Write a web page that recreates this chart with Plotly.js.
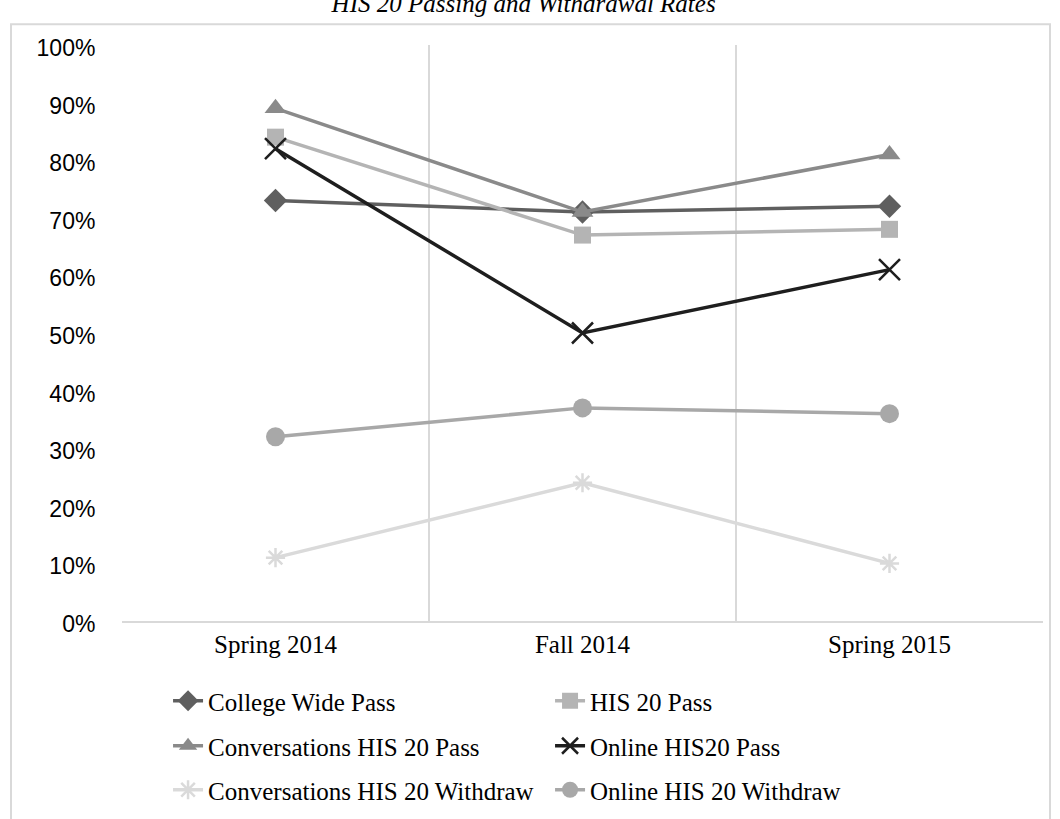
<!DOCTYPE html>
<html>
<head>
<meta charset="utf-8">
<script src="https://cdn.plot.ly/plotly-3.0.1.min.js"></script>
<style>
  html, body { margin: 0; padding: 0; background: #ffffff; }
  #chart { width: 1060px; height: 819px; }
</style>
</head>
<body>
<div id="chart"></div>
<script>
const terms = ["Spring 2014", "Fall 2014", "Spring 2015"];
const seriesNames = [
  "College Wide Pass",
  "HIS 20 Pass",
  "Conversations HIS 20 Pass",
  "Online HIS20 Pass",
  "Conversations HIS 20 Withdraw",
  "Online HIS 20 Withdraw"
];
const collegeWidePass = [0.73, 0.71, 0.72];
const his20Pass = [0.84, 0.67, 0.68];
const conversationsPass = [0.89, 0.71, 0.81];
const onlinePass = [0.82, 0.50, 0.61];
const conversationsWithdraw = [0.11, 0.24, 0.10];
const onlineWithdraw = [0.32, 0.37, 0.36];
const yTickVals = [0, 0.1, 0.2, 0.3, 0.4, 0.5, 0.6, 0.7, 0.8, 0.9, 1.0];
const yTickText = ["0%", "10%", "20%", "30%", "40%", "50%", "60%", "70%", "80%", "90%", "100%"];

const serif = "'Liberation Serif', 'Times New Roman', serif";
const sans = "'Liberation Sans', Arial, sans-serif";

function mk(name, y, color, symbol, size, legendId, extra) {
  const m = { symbol: symbol, size: size, color: color, line: { color: color, width: 0 } };
  if (extra) Object.assign(m.line, extra);
  return {
    type: "scatter", mode: "lines+markers", name: name,
    x: terms, y: y,
    line: { color: color, width: 3.5 },
    marker: m,
    legend: legendId,
    cliponaxis: false
  };
}

const data = [
  mk(seriesNames[0], collegeWidePass, "#5f5f5f", "diamond", 18, "legend"),
  mk(seriesNames[1], his20Pass, "#b4b4b4", "square", 17, "legend"),
  mk(seriesNames[2], conversationsPass, "#8a8a8a", "triangle-up", 19, "legend2"),
  mk(seriesNames[3], onlinePass, "#1e1e1e", "x-thin-open", 21, "legend2", { width: 2.5 }),
  mk(seriesNames[4], conversationsWithdraw, "#dadada", "asterisk-open", 16, "legend3", { width: 2.5 }),
  mk(seriesNames[5], onlineWithdraw, "#a8a8a8", "circle", 19, "legend3")
];

const legendBase = {
  orientation: "h", xanchor: "left", yanchor: "middle", x: 0.05,
  yref: "container",
  font: { family: serif, size: 25, color: "#000000" },
  bgcolor: "rgba(0,0,0,0)", entrywidth: 337, entrywidthmode: "pixels",
  itemclick: false, itemdoubleclick: false
};

const layout = {
  width: 1060, height: 819,
  margin: { l: 122, r: 17, t: 45, b: 198, autoexpand: false },
  paper_bgcolor: "#ffffff", plot_bgcolor: "#ffffff",
  showlegend: true,
  title: {
    text: "HIS 20 Passing and Withdrawal Rates",
    font: { family: serif, size: 25, style: "italic", color: "#000000" },
    x: 0.494, xanchor: "center", xref: "container",
    y: 0.996, yanchor: "middle", yref: "container"
  },
  xaxis: {
    type: "category", range: [-0.5, 2.5],
    tickson: "boundaries", showgrid: true, gridcolor: "#d9d9d9", gridwidth: 1.5,
    showline: true, linecolor: "#d9d9d9", linewidth: 1.5,
    ticks: "outside", ticklen: 14, tickcolor: "rgba(0,0,0,0)",
    tickfont: { family: serif, size: 25, color: "#000000" },
    zeroline: false, fixedrange: true
  },
  yaxis: {
    range: [0, 1], tickvals: yTickVals, ticktext: yTickText,
    showgrid: false, showline: false, zeroline: false,
    ticks: "outside", ticklen: 21, tickcolor: "rgba(0,0,0,0)",
    ticklabelshift: 3,
    tickfont: { family: sans, size: 23, color: "#000000" },
    fixedrange: true
  },
  legend: Object.assign({}, legendBase, { y: 1 - 701 / 819 }),
  legend2: Object.assign({}, legendBase, { y: 1 - 746 / 819 }),
  legend3: Object.assign({}, legendBase, { y: 1 - 790 / 819 }),
  shapes: [{
    type: "rect", xref: "paper", yref: "paper",
    x0: -0.1205, x1: 1.0076, y0: -0.40, y1: 1.036,
    line: { color: "#d9d9d9", width: 2 }, fillcolor: "rgba(0,0,0,0)", layer: "below"
  }]
};

Plotly.newPlot("chart", data, layout, { displayModeBar: false, staticPlot: true });
</script>
</body>
</html>
